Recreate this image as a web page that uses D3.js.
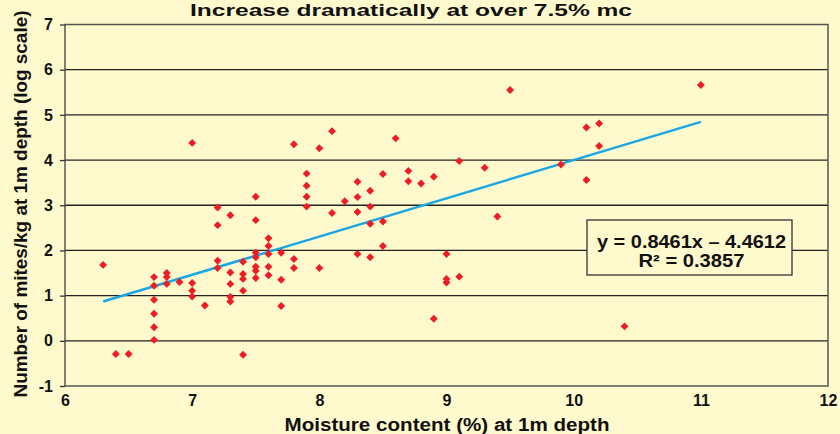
<!DOCTYPE html>
<html><head><meta charset="utf-8">
<script src="https://cdn.jsdelivr.net/npm/d3@7"></script>
<style>html,body{margin:0;padding:0;background:#fffacd;}svg{display:block;}</style>
</head><body>
<svg id="chart" width="840" height="434"></svg>
<script>
const titleText = "Increase dramatically at over 7.5% mc";
const xLabel = "Moisture content (%) at 1m depth";
const yLabel = "Number of mites/kg at 1m depth (log scale)";
const xTicks = [6, 7, 8, 9, 10, 11, 12];
const yTicks = [-1, 0, 1, 2, 3, 4, 5, 6, 7];
const moisture = [6.3,6.4,6.5,6.7,6.7,6.7,6.7,6.7,6.7,6.8,6.8,6.8,6.9,7.0,7.0,7.0,7.1,7.2,7.2,7.2,7.2,7.3,7.3,7.3,7.3,7.3,7.4,7.4,7.4,7.4,7.4,7.5,7.5,7.5,7.5,7.5,7.5,7.5,7.6,7.6,7.6,7.6,7.6,7.7,7.7,7.7,7.8,7.8,7.8,7.9,7.9,7.9,7.9,8.0,8.0,8.1,8.1,8.2,8.3,8.3,8.3,8.3,8.4,8.4,8.4,8.4,8.5,8.5,8.5,8.6,8.7,8.7,8.8,8.9,8.9,9.0,9.0,9.0,9.1,9.1,9.3,9.4,9.5,9.9,10.1,10.1,10.2,10.2,10.4,11.0,7.0];
const mites = [1.68,-0.29,-0.29,1.41,1.22,0.91,0.60,0.30,0.02,1.50,1.41,1.26,1.30,1.28,1.11,0.98,0.78,2.95,2.56,1.77,1.61,2.78,1.51,1.26,0.97,0.87,1.75,1.48,1.37,1.11,-0.31,3.19,2.67,1.95,1.85,1.64,1.55,1.39,2.27,2.10,1.92,1.64,1.45,1.95,1.35,0.77,4.35,1.81,1.61,3.70,3.43,3.19,2.97,4.26,1.61,4.64,2.83,3.09,3.52,3.18,2.85,1.92,3.32,2.97,2.59,1.85,3.69,2.64,2.10,4.48,3.76,3.53,3.48,3.63,0.49,1.92,1.37,1.29,3.98,1.42,3.83,2.75,5.55,3.90,4.72,3.56,4.81,4.31,0.32,5.66,4.38];
const fitSlope = 0.8461, fitIntercept = -4.4612;
const fitRange = [6.3, 11.0];
const equationLines = ["y = 0.8461x \u2013 4.4612", "R\u00B2 = 0.3857"];

const bg = "#fffacd";
const svg = d3.select("#chart");
svg.append("rect").attr("width", 840).attr("height", 434).attr("fill", bg);

const x = d3.scaleLinear().domain([6, 12]).range([65, 828]);
const y = d3.scaleLinear().domain([-1, 7]).range([386, 24.5]);
const font = "'Liberation Sans',Arial,sans-serif";

// gridlines
svg.append("g").selectAll("line").data(yTicks.filter(d => d > -1 && d < 7)).join("line")
  .attr("x1", x(6)).attr("x2", x(12)).attr("y1", d => y(d)).attr("y2", d => y(d))
  .attr("stroke", "#222").attr("stroke-width", 1.3);

// plot border
svg.append("rect").attr("x", x(6)).attr("y", y(7)).attr("width", x(12) - x(6)).attr("height", y(-1) - y(7))
  .attr("fill", "none").attr("stroke", "#555").attr("stroke-width", 1.5);

// axes
const yAxis = d3.axisLeft(y).tickValues(yTicks).tickSize(5).tickPadding(7).tickFormat(d => String(d));
const gy = svg.append("g").attr("transform", `translate(${x(6)},0)`).call(yAxis);
gy.select(".domain").remove();
gy.selectAll(".tick line").attr("stroke", "#333").attr("stroke-width", 1.3);
gy.selectAll("text").attr("font-family", font).attr("font-weight", "bold").attr("font-size", 16).attr("fill", "#111");

const xAxis = d3.axisBottom(x).tickValues(xTicks).tickSize(0).tickPadding(9).tickFormat(d => String(d));
const gx = svg.append("g").attr("transform", `translate(0,${y(-1)})`).call(xAxis);
gx.select(".domain").remove();
gx.selectAll("text").attr("font-family", font).attr("font-weight", "bold").attr("font-size", 16).attr("fill", "#111");

// regression line
svg.append("line")
  .attr("x1", x(fitRange[0])).attr("y1", y(fitSlope * fitRange[0] + fitIntercept))
  .attr("x2", x(fitRange[1])).attr("y2", y(fitSlope * fitRange[1] + fitIntercept))
  .attr("stroke", "#1aa6e4").attr("stroke-width", 2.5);

// points
const pts = moisture.map((m, i) => [m, mites[i]]);
svg.append("g").selectAll("path").data(pts).join("path")
  .attr("d", d3.symbol(d3.symbolDiamond2, 40))
  .attr("transform", d => `translate(${x(d[0])},${y(d[1])})`)
  .attr("fill", "#ee1c25");

// equation box
const bx = 587, by = 220, bw = 205, bh = 55;
svg.append("rect").attr("x", bx).attr("y", by).attr("width", bw).attr("height", bh)
  .attr("fill", bg).attr("stroke", "#333").attr("stroke-width", 1.3);
svg.append("g").selectAll("text").data(equationLines).join("text")
  .attr("x", bx + bw / 2 + 2).attr("y", (d, i) => 248 + i * 18.5)
  .attr("text-anchor", "middle").attr("font-family", font).attr("font-weight", "bold")
  .attr("font-size", 18).attr("fill", "#111")
  .attr("textLength", (d, i) => i === 0 ? 189 : 106).attr("lengthAdjust", "spacingAndGlyphs")
  .text(d => d);

// title
svg.append("text").attr("x", 411).attr("y", 16).attr("text-anchor", "middle")
  .attr("font-family", font).attr("font-weight", "bold").attr("font-size", 16).attr("fill", "#111")
  .attr("textLength", 442).attr("lengthAdjust", "spacingAndGlyphs").text(titleText);

// axis titles
svg.append("text").attr("x", 447).attr("y", 431).attr("text-anchor", "middle")
  .attr("font-family", font).attr("font-weight", "bold").attr("font-size", 18).attr("fill", "#111")
  .attr("textLength", 325).attr("lengthAdjust", "spacingAndGlyphs").text(xLabel);
svg.append("text").attr("transform", "translate(27,204) rotate(-90)").attr("text-anchor", "middle")
  .attr("font-family", font).attr("font-weight", "bold").attr("font-size", 19).attr("fill", "#111")
  .attr("textLength", 387).attr("lengthAdjust", "spacingAndGlyphs").text(yLabel);
</script>
</body></html>
